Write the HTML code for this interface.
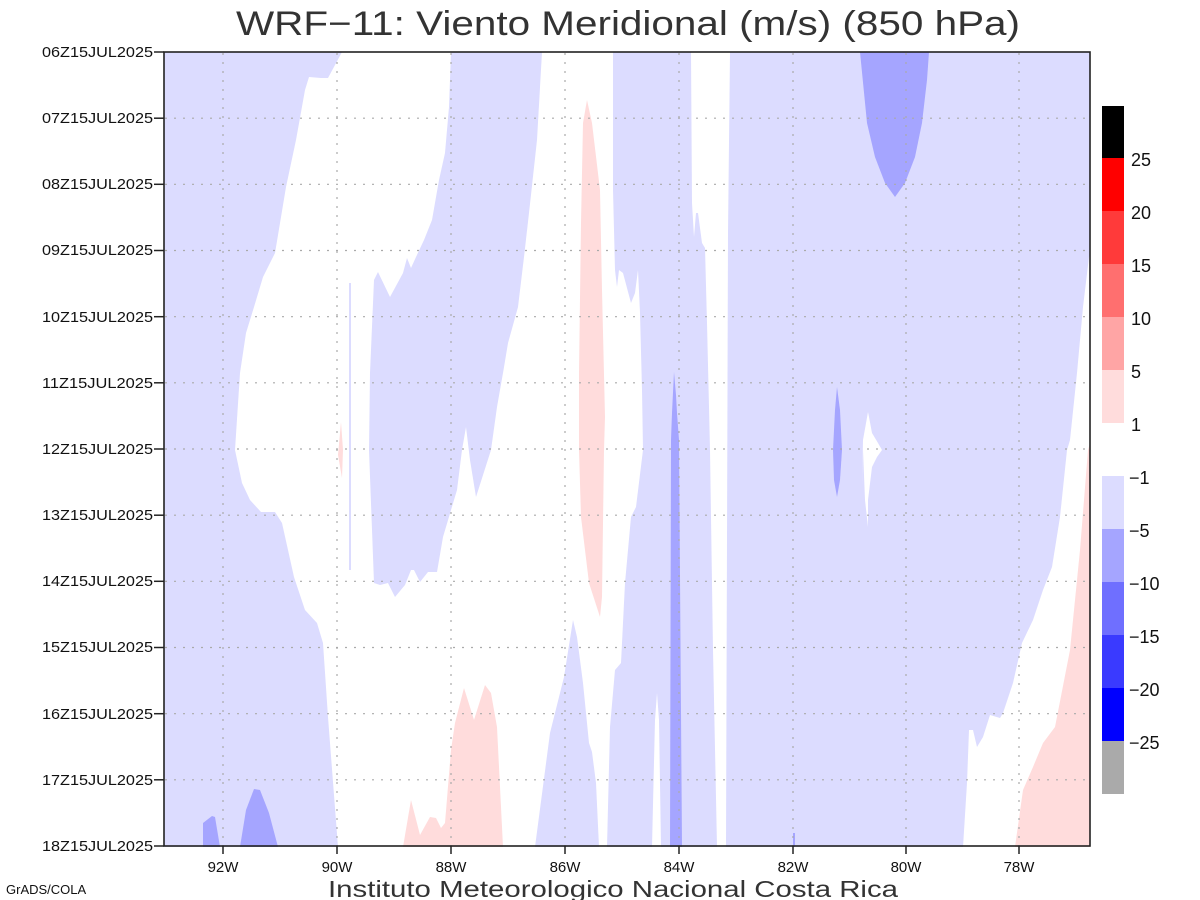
<!DOCTYPE html>
<html><head><meta charset="utf-8"><style>
html,body{margin:0;padding:0;background:#fff;}
svg{display:block;font-family:"Liberation Sans",sans-serif;}
</style></head><body>
<svg width="1200" height="900" viewBox="0 0 1200 900" xmlns="http://www.w3.org/2000/svg">
<rect width="1200" height="900" fill="#fff"/>
<text x="628" y="35" font-size="34" text-anchor="middle" textLength="784" lengthAdjust="spacingAndGlyphs" fill="#333">WRF−11: Viento Meridional (m/s) (850 hPa)</text>
<g>
<g fill="#dcdcff">
<polygon points="164,52 342,52 328,78 321,78 309,77 305,90 296,140 286,187 275,253 263,277 254,307 246,333 240,373 235,450 242,483 250,500 261,512 275,512 282,523 294,577 305,610 317,623 323,643 328,717 338,847 164,847"/>
<polygon points="451,52 542,52 537,140 529,213 524,257 518,307 508,343 503,373 497,407 491,450 476,497 470,460 466,427 462,450 457,490 451,510 443,537 437,572 428,572 420,582 414,570 411,570 405,585 395,597 388,583 380,585 374,583 369,450 370,373 374,280 378,272 390,297 403,273 407,258 411,268 416,257 424,240 432,220 439,180 445,153 449,107"/>
<rect x="349" y="283" width="2" height="287"/>
<polygon points="535,847 550,733 564,677 573,620 577,637 583,683 589,743 592,752 596,783 599,847"/>
<polygon points="613,52 691,52 692,203 694,237 696,213 698,213 702,243 705,248 707,323 709,407 710,450 713,650 717,847 607,847 610,727 615,670 621,663 625,583 631,517 636,507 643,450 642,390 640,313 638,270 635,293 631,303 623,273 619,270 617,287 615,270 613,190"/>
<polygon points="730,52 1090,52 1090,255 1089,257 1083,307 1077,373 1070,440 1067,450 1060,517 1052,567 1043,590 1033,620 1022,643 1013,683 1003,713 1000,718 990,715 983,737 977,747 973,730 969,730 967,783 963,847 726,847 728,233"/>
</g>
<g fill="#fff">
<polygon points="652,847 655,720 657,693 659,720 661,847"/>
<polygon points="868,412 869,417 872,433 878,443 882,450 877,457 872,467 868,500 868,527 865,500 863,450 862,490 863,440"/>
</g>
<g fill="#ffdcdc">
<polygon points="587,100 592,123 600,190 602,290 605,417 604,450 602,597 600,617 589,583 581,517 579,450 579,373 581,223 583,123"/>
<polygon points="341,422 343,450 342,478 338,455"/>
<polygon points="403,847 411,800 420,835 430,817 436,818 441,828 445,823 451,750 455,723 464,688 474,720 485,685 491,693 497,727 503,847"/>
<polygon points="1090,443 1088,450 1080,550 1070,650 1055,727 1043,743 1033,767 1023,790 1015,847 1090,847"/>
</g>
<g fill="#a5a5ff">
<polygon points="674,372 676,395 677,413 679,440 682,847 670,847 671,440 672,413"/>
<polygon points="860,52 929,52 927,80 922,123 915,157 905,183 895,197 885,183 875,157 867,123"/>
<polygon points="837,387 840,410 842,450 840,480 837,497 834,480 833,450 835,410"/>
<polygon points="203,847 203,823 212,816 215,817 220,847"/>
<polygon points="240,847 246,810 254,789 260,790 269,813 278,847"/>
<rect x="793" y="833" width="2" height="14"/>
</g>
</g>
<g stroke="#aaa" stroke-width="1.2" stroke-dasharray="2,7" fill="none">
<line x1="223" y1="53" x2="223" y2="846"/><line x1="337" y1="53" x2="337" y2="846"/>
<line x1="451" y1="53" x2="451" y2="846"/><line x1="565" y1="53" x2="565" y2="846"/>
<line x1="679" y1="53" x2="679" y2="846"/><line x1="793" y1="53" x2="793" y2="846"/>
<line x1="906" y1="53" x2="906" y2="846"/><line x1="1019" y1="53" x2="1019" y2="846"/>
<line x1="165" y1="118.2" x2="1090" y2="118.2"/><line x1="165" y1="184.3" x2="1090" y2="184.3"/>
<line x1="165" y1="250.5" x2="1090" y2="250.5"/><line x1="165" y1="316.7" x2="1090" y2="316.7"/>
<line x1="165" y1="382.8" x2="1090" y2="382.8"/><line x1="165" y1="449" x2="1090" y2="449"/>
<line x1="165" y1="515.2" x2="1090" y2="515.2"/><line x1="165" y1="581.3" x2="1090" y2="581.3"/>
<line x1="165" y1="647.5" x2="1090" y2="647.5"/><line x1="165" y1="713.7" x2="1090" y2="713.7"/>
<line x1="165" y1="779.8" x2="1090" y2="779.8"/>
</g>
<rect x="164" y="52" width="926" height="794" fill="none" stroke="#222" stroke-width="1.6"/>
<g stroke="#222" stroke-width="1.5">
<line x1="154" y1="52" x2="164" y2="52"/><line x1="154" y1="118.2" x2="164" y2="118.2"/>
<line x1="154" y1="184.3" x2="164" y2="184.3"/><line x1="154" y1="250.5" x2="164" y2="250.5"/>
<line x1="154" y1="316.7" x2="164" y2="316.7"/><line x1="154" y1="382.8" x2="164" y2="382.8"/>
<line x1="154" y1="449" x2="164" y2="449"/><line x1="154" y1="515.2" x2="164" y2="515.2"/>
<line x1="154" y1="581.3" x2="164" y2="581.3"/><line x1="154" y1="647.5" x2="164" y2="647.5"/>
<line x1="154" y1="713.7" x2="164" y2="713.7"/><line x1="154" y1="779.8" x2="164" y2="779.8"/>
<line x1="154" y1="846" x2="164" y2="846"/>
<line x1="223" y1="846" x2="223" y2="854"/><line x1="337" y1="846" x2="337" y2="854"/>
<line x1="451" y1="846" x2="451" y2="854"/><line x1="565" y1="846" x2="565" y2="854"/>
<line x1="679" y1="846" x2="679" y2="854"/><line x1="793" y1="846" x2="793" y2="854"/>
<line x1="906" y1="846" x2="906" y2="854"/><line x1="1019" y1="846" x2="1019" y2="854"/>
</g>
<g font-size="15" text-anchor="end" fill="#111">
<text x="153" y="57" textLength="111" lengthAdjust="spacingAndGlyphs">06Z15JUL2025</text>
<text x="153" y="123" textLength="111" lengthAdjust="spacingAndGlyphs">07Z15JUL2025</text>
<text x="153" y="189" textLength="111" lengthAdjust="spacingAndGlyphs">08Z15JUL2025</text>
<text x="153" y="255" textLength="111" lengthAdjust="spacingAndGlyphs">09Z15JUL2025</text>
<text x="153" y="322" textLength="111" lengthAdjust="spacingAndGlyphs">10Z15JUL2025</text>
<text x="153" y="388" textLength="111" lengthAdjust="spacingAndGlyphs">11Z15JUL2025</text>
<text x="153" y="454" textLength="111" lengthAdjust="spacingAndGlyphs">12Z15JUL2025</text>
<text x="153" y="520" textLength="111" lengthAdjust="spacingAndGlyphs">13Z15JUL2025</text>
<text x="153" y="586" textLength="111" lengthAdjust="spacingAndGlyphs">14Z15JUL2025</text>
<text x="153" y="652" textLength="111" lengthAdjust="spacingAndGlyphs">15Z15JUL2025</text>
<text x="153" y="719" textLength="111" lengthAdjust="spacingAndGlyphs">16Z15JUL2025</text>
<text x="153" y="785" textLength="111" lengthAdjust="spacingAndGlyphs">17Z15JUL2025</text>
<text x="153" y="851" textLength="111" lengthAdjust="spacingAndGlyphs">18Z15JUL2025</text>
</g>
<g font-size="15" text-anchor="middle" fill="#111">
<text x="223" y="872">92W</text><text x="337" y="872">90W</text><text x="451" y="872">88W</text>
<text x="565" y="872">86W</text><text x="679" y="872">84W</text><text x="793" y="872">82W</text>
<text x="906" y="872">80W</text><text x="1019" y="872">78W</text>
</g>
<text x="613" y="897" font-size="23" text-anchor="middle" textLength="570" lengthAdjust="spacingAndGlyphs" fill="#333">Instituto Meteorologico Nacional Costa Rica</text>
<text x="6" y="894" font-size="13" fill="#111">GrADS/COLA</text>
<rect x="1102" y="106" width="22" height="53" fill="#000"/>
<rect x="1102" y="158" width="22" height="54" fill="#ff0000"/>
<rect x="1102" y="211" width="22" height="54" fill="#ff3a3a"/>
<rect x="1102" y="264" width="22" height="54" fill="#ff6f6f"/>
<rect x="1102" y="317" width="22" height="54" fill="#ffa5a5"/>
<rect x="1102" y="370" width="22" height="53" fill="#ffdcdc"/>
<rect x="1102" y="476" width="22" height="54" fill="#dcdcff"/>
<rect x="1102" y="529" width="22" height="54" fill="#a5a5ff"/>
<rect x="1102" y="582" width="22" height="54" fill="#6f6fff"/>
<rect x="1102" y="635" width="22" height="54" fill="#3a3aff"/>
<rect x="1102" y="688" width="22" height="54" fill="#0000ff"/>
<rect x="1102" y="741" width="22" height="53" fill="#aaaaaa"/>
<g font-size="18" fill="#111">
<text x="1131" y="166">25</text><text x="1131" y="219">20</text><text x="1131" y="272">15</text>
<text x="1131" y="325">10</text><text x="1131" y="378">5</text><text x="1131" y="431">1</text>
<text x="1129" y="484">−1</text><text x="1129" y="537">−5</text><text x="1129" y="590">−10</text>
<text x="1129" y="643">−15</text><text x="1129" y="696">−20</text><text x="1129" y="749">−25</text>
</g>
</svg>
</body></html>
